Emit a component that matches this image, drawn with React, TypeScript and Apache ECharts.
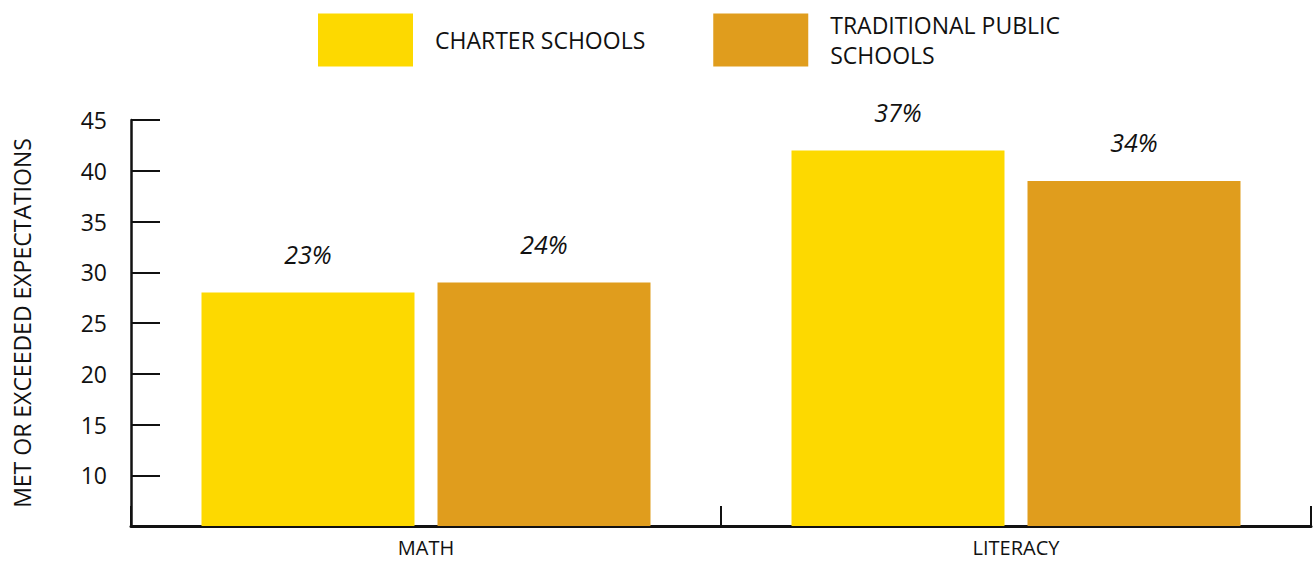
import React, { useEffect, useRef } from "react";
import * as echarts from "echarts";

const categories = ["MATH", "LITERACY"];
const charterValues = [28, 42];
const traditionalValues = [29, 39];
const charterLabelTexts = ["23%", "37%"];
const traditionalLabelTexts = ["24%", "34%"];
const seriesNames = ["CHARTER SCHOOLS", "TRADITIONAL PUBLIC SCHOOLS"];
const yAxisTitle = "MET OR EXCEEDED EXPECTATIONS";

const FONT = "'Open Sans', 'Noto Sans', sans-serif";

export default function App() {
  const ref = useRef<HTMLDivElement>(null);
  useEffect(() => {
    if (!ref.current) return;
    const chart = echarts.init(ref.current, null, { renderer: "svg" });
    const labelStyle = (texts: string[]) => ({
      show: true,
      position: "top",
      distance: 26,
      fontSize: 25,
      fontStyle: "italic",
      color: "#111",
      fontFamily: FONT,
      formatter: (p: any) => texts[p.dataIndex],
    });
    chart.setOption({
      animation: false,
      textStyle: { fontFamily: FONT },
      legend: {
        left: 318,
        top: 10,
        padding: 0,
        itemWidth: 95,
        itemHeight: 53,
        itemGap: 68,
        icon: "rect",
        formatter: (name: string) =>
          name === "TRADITIONAL PUBLIC SCHOOLS" ? "TRADITIONAL PUBLIC\nSCHOOLS" : name,
        textStyle: {
          fontSize: 23,
          lineHeight: 30,
          color: "#111",
          fontFamily: FONT,
          padding: [0, 0, 0, 17],
        },
        data: seriesNames,
      },
      grid: { left: 131, right: 2, top: 120, bottom: 35, containLabel: false },
      xAxis: {
        type: "category",
        data: categories,
        axisLine: { lineStyle: { color: "#111", width: 3 } },
        axisTick: { show: true, inside: true, length: 20, lineStyle: { color: "#111", width: 2 } },
        axisLabel: { fontSize: 20, lineHeight: 20, color: "#111", margin: 11, fontFamily: FONT },
      },
      yAxis: {
        type: "value",
        min: 5,
        max: 45,
        interval: 5,
        name: yAxisTitle,
        nameLocation: "middle",
        nameGap: 98,
        nameTextStyle: { fontSize: 23, color: "#111", fontFamily: FONT },
        axisLine: { show: true, lineStyle: { color: "#111", width: 2.5 } },
        axisTick: { show: true, inside: true, length: 29, lineStyle: { color: "#111", width: 2 } },
        axisLabel: { showMinLabel: false, fontSize: 23, color: "#111", margin: 24, fontFamily: FONT },
        splitLine: { show: false },
      },
      series: [
        {
          name: seriesNames[0],
          type: "bar",
          data: charterValues,
          barWidth: 213,
          barGap: "10.8%",
          itemStyle: { color: "#FDD900" },
          label: labelStyle(charterLabelTexts),
        },
        {
          name: seriesNames[1],
          type: "bar",
          data: traditionalValues,
          barWidth: 213,
          itemStyle: { color: "#E09D1D" },
          label: labelStyle(traditionalLabelTexts),
        },
      ],
    });
    return () => chart.dispose();
  }, []);
  return <div ref={ref} style={{ width: 1313, height: 561, position: "absolute", left: 0, top: 0 }} />;
}
